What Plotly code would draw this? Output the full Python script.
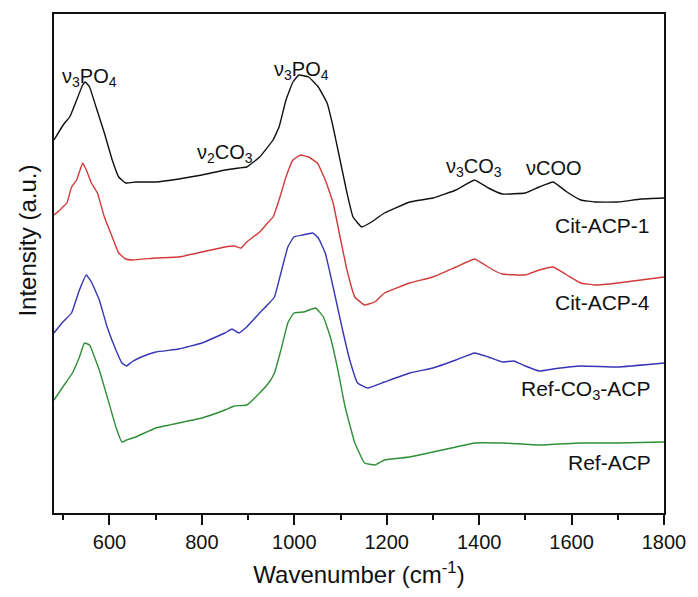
import plotly.graph_objects as go

# ---- data (wavenumber, intensity a.u.) ----
wn_cit1 = [480, 497, 503, 514, 529, 542, 548, 557, 571, 589, 606, 620, 635, 657, 700, 750, 800, 850, 880, 897,
           925, 954, 967, 982, 997, 1010, 1031, 1052, 1071, 1084, 1099, 1114, 1127, 1146, 1167, 1195, 1250,
           1300, 1350, 1390, 1420, 1450, 1500, 1530, 1560, 1590, 1620, 1650, 1700, 1750, 1800]
int_cit1 = [373, 386, 390, 396, 413, 428, 431, 426, 406, 380, 353, 336, 330, 331, 331, 334, 338, 343, 345, 346,
            356, 373, 386, 413, 431, 438, 436, 426, 410, 386, 353, 320, 296, 286, 291, 300, 311,
            315, 323, 333, 325, 319, 320, 326, 331, 321, 313, 311, 311, 314, 315]

wn_cit4 = [480, 493, 499, 508, 518, 529, 542, 550, 561, 574, 589, 606, 620, 635, 650, 700, 750, 800, 850, 870,
           885, 897, 925, 944, 954, 967, 982, 997, 1014, 1031, 1050, 1067, 1084, 1099, 1114, 1131, 1152, 1174,
           1195, 1250, 1300, 1350, 1390, 1430, 1450, 1500, 1530, 1560, 1590, 1620, 1650, 1700, 1750, 1800]
int_cit4 = [298, 303, 306, 310, 326, 333, 350, 343, 330, 320, 296, 276, 260, 254, 253, 255, 256, 261, 266, 267,
            265, 271, 281, 291, 296, 313, 336, 353, 358, 356, 350, 333, 310, 276, 243, 216, 208, 211,
            220, 230, 236, 246, 254, 243, 239, 238, 243, 246, 238, 230, 228, 230, 233, 236]

wn_refco3 = [480, 499, 518, 535, 550, 561, 578, 595, 614, 627, 637, 648, 669, 700, 750, 800, 850, 865, 880, 897,
             925, 946, 957, 971, 986, 999, 1018, 1040, 1052, 1067, 1084, 1103, 1120, 1137, 1159, 1195, 1250,
             1300, 1350, 1390, 1420, 1450, 1475, 1500, 1530, 1560, 1620, 1700, 1800]
int_refco3 = [180, 191, 200, 223, 238, 231, 213, 186, 163, 150, 147, 151, 156, 161, 164, 170, 180, 184, 180, 186,
              200, 210, 216, 240, 266, 276, 278, 280, 275, 260, 226, 186, 153, 130, 125, 131, 140,
              145, 153, 160, 156, 151, 152, 147, 142, 144, 147, 146, 150]

wn_ref = [480, 499, 520, 535, 546, 557, 578, 599, 614, 627, 637, 657, 700, 750, 800, 850, 870, 897, 925, 946,
          957, 971, 986, 999, 1020, 1046, 1063, 1078, 1093, 1110, 1131, 1152, 1174, 1195, 1250, 1300, 1350,
          1390, 1450, 1530, 1620, 1700, 1800]
int_ref = [113, 126, 140, 156, 170, 168, 143, 110, 86, 71, 73, 76, 85, 90, 95, 103, 107, 108, 120, 131,
           140, 163, 190, 200, 201, 205, 196, 176, 146, 106, 70, 50, 48, 53, 56, 61, 66,
           70, 70, 68, 70, 70, 71]

series_names = ["Cit-ACP-1", "Cit-ACP-4", "Ref-CO<sub>3</sub>-ACP", "Ref-ACP"]
series_colors = ["#111111", "#d23a3a", "#3535b5", "#2f8f36"]

band_labels = ["ν<sub>3</sub>PO<sub>4</sub>", "ν<sub>3</sub>PO<sub>4</sub>", "ν<sub>2</sub>CO<sub>3</sub>",
               "ν<sub>3</sub>CO<sub>3</sub>", "νCOO"]
band_x = [557, 1016, 850, 1389, 1561]
band_y = [436, 443, 360, 346, 345]
series_label_x = [1774, 1774, 1776, 1776]
series_label_y = [288, 211, 123, 51]

xs = [wn_cit1, wn_cit4, wn_refco3, wn_ref]
ys = [int_cit1, int_cit4, int_refco3, int_ref]

FONT = "Liberation Sans, Arial, sans-serif"

fig = go.Figure()
for x, y, name, c in zip(xs, ys, series_names, series_colors):
    fig.add_trace(go.Scatter(x=x, y=y, mode="lines", name=name,
                             line=dict(color=c, width=1.4, shape="spline", smoothing=0.3),
                             showlegend=False))

for t, x, y in zip(band_labels, band_x, band_y):
    fig.add_annotation(x=x, y=y, text=t, showarrow=False, xanchor="center", yanchor="middle",
                       font=dict(family=FONT, size=20, color="#111"))
for t, x, y in zip(series_names, series_label_x, series_label_y):
    fig.add_annotation(x=x, y=y, text=t, showarrow=False, xanchor="right", yanchor="middle",
                       font=dict(family=FONT, size=21, color="#111"))

fig.add_annotation(xref="paper", yref="paper", x=-0.045, y=0.545, text="Intensity (a.u.)",
                   textangle=-90, showarrow=False, xanchor="center", yanchor="middle",
                   font=dict(family=FONT, size=24, color="#111"))

fig.update_layout(
    width=698, height=597,
    margin=dict(l=54, r=24, t=14, b=84),
    paper_bgcolor="white", plot_bgcolor="white",
    font=dict(family=FONT, color="#111"),
)
fig.update_xaxes(
    range=[480, 1800], tick0=0, dtick=200, ticks="outside", ticklen=10, tickwidth=1.5,
    tickcolor="#111", showline=True, linecolor="#111", linewidth=1.8, mirror=True,
    showgrid=False, zeroline=False, tickfont=dict(family=FONT, size=20, color="#111"),
    minor=dict(dtick=100, tick0=0, ticks="outside", ticklen=5, tickwidth=1.5, tickcolor="#111", showgrid=False),
    title=dict(text="Wavenumber (cm<sup>-1</sup>)", font=dict(family=FONT, size=24, color="#111"), standoff=14),
)
fig.update_yaxes(
    range=[0, 499], showticklabels=False, ticks="", showline=True, linecolor="#111", linewidth=1.8,
    mirror=True, showgrid=False, zeroline=False,
)

fig.write_html("out.html", config={"displayModeBar": False},
               post_script="document.body.style.margin='0';")
